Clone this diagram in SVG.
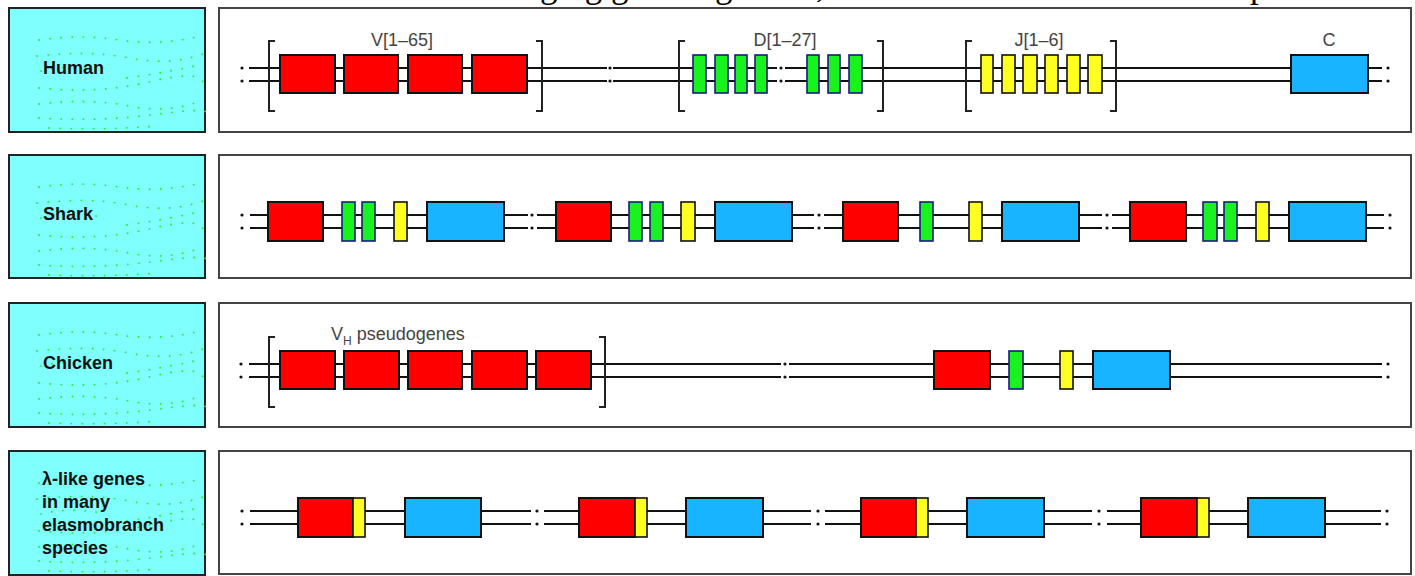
<svg xmlns="http://www.w3.org/2000/svg" width="1415" height="576" viewBox="0 0 1415 576">
<style>
.bg{fill:#fff}
.lab{fill:#80ffff;stroke:#222;stroke-width:2}
.panel{fill:#fff;stroke:#444;stroke-width:2}
.dots{fill:none;stroke:#22ee22;stroke-width:1.8;stroke-linecap:round;stroke-dasharray:0.1 11}
.ln{stroke:#111;stroke-width:2;fill:none}
.br{stroke:#222;stroke-width:2;fill:none}
.sep{fill:#111}
.V{fill:#ff0000;stroke:#111;stroke-width:2}
.D{fill:#18f21e;stroke:#1a1a80;stroke-width:1.6}
.J{fill:#ffff22;stroke:#111;stroke-width:1.6}
.C{fill:#19b4ff;stroke:#111;stroke-width:2}
.name{font-family:"Liberation Sans",Arial,sans-serif;font-weight:bold;font-size:18px;fill:#111}
.seg{font-family:"Liberation Sans",Arial,sans-serif;font-size:18px;fill:#444}
.cap{font-family:"Liberation Serif","Times New Roman",serif;font-size:35px;fill:#000}
</style>
<defs>
<g id="speckle">
<path class="dots" d="M30 32 Q70 26 110 32 T192 28"/>
<path class="dots" d="M28 48 Q80 42 120 50 T194 46"/>
<path class="dots" d="M32 63 Q60 56 92 62 M118 70 Q160 64 194 56"/>
<path class="dots" d="M30 80 Q90 86 140 74 T194 74"/>
<path class="dots" d="M30 96 Q80 90 120 98 T194 92"/>
<path class="dots" d="M30 110 Q90 114 150 106 T194 108"/>
<path class="dots" d="M40 120 Q100 122 150 118"/>
</g>
<g id="sepdots">
<circle cx="0" cy="0" r="1.6"/>
<circle cx="0" cy="13" r="1.6"/>
</g>
</defs>
<rect class="bg" x="0" y="0" width="1415" height="576"/>
<g id="caption">
<text class="cap" x="540" y="-3.5">ging gene segments,</text>
<text class="cap" x="1250" y="-3.5">p</text>
</g>

<g id="label-human">
<rect class="lab" x="9" y="8" width="196" height="124"/>
<use href="#speckle" transform="translate(9,8)"/>
<text class="name" x="43" y="74">Human</text>
</g>
<g id="label-shark">
<rect class="lab" x="9" y="155" width="196" height="123"/>
<use href="#speckle" transform="translate(9,155)"/>
<text class="name" x="43" y="220">Shark</text>
</g>
<g id="label-chicken">
<rect class="lab" x="9" y="303" width="196" height="124"/>
<use href="#speckle" transform="translate(9,303)"/>
<text class="name" x="43" y="369">Chicken</text>
</g>
<g id="label-lambda">
<rect class="lab" x="9" y="451" width="196" height="124"/>
<use href="#speckle" transform="translate(9,451)"/>
<text class="name" x="42" y="485">λ-like genes</text>
<text class="name" x="42" y="508">in many</text>
<text class="name" x="42" y="531">elasmobranch</text>
<text class="name" x="42" y="554">species</text>
</g>

<g id="panels">
<rect class="panel" x="219" y="8" width="1192" height="124"/>
<rect class="panel" x="219" y="155" width="1192" height="123"/>
<rect class="panel" x="219" y="303" width="1192" height="124"/>
<rect class="panel" x="219" y="451" width="1192" height="123"/>
</g>

<g id="connectors">
<path class="ln" d="M249 68H607M613 68H777M785 68H1382M249 81H607M613 81H777M785 81H1382"/>
<g class="sep">
<use href="#sepdots" transform="translate(242,68)"/>
<use href="#sepdots" transform="translate(610,68)"/>
<use href="#sepdots" transform="translate(781,68)"/>
<use href="#sepdots" transform="translate(1388,68)"/>
</g>
<path class="ln" d="M250 215H528M537 215H814M824 215H1102M1112 215H1384M250 228H528M537 228H814M824 228H1102M1112 228H1384"/>
<g class="sep">
<use href="#sepdots" transform="translate(242,215)"/>
<use href="#sepdots" transform="translate(532,215)"/>
<use href="#sepdots" transform="translate(819,215)"/>
<use href="#sepdots" transform="translate(1107,215)"/>
<use href="#sepdots" transform="translate(1390,215)"/>
</g>
<path class="ln" d="M249 364H781M789 364H1382M249 377H781M789 377H1382"/>
<g class="sep">
<use href="#sepdots" transform="translate(241,364)"/>
<use href="#sepdots" transform="translate(785,364)"/>
<use href="#sepdots" transform="translate(1388,364)"/>
</g>
<path class="ln" d="M250 511H531M544 511H811M825 511H1092M1107 511H1381M250 524H531M544 524H811M825 524H1092M1107 524H1381"/>
<g class="sep">
<use href="#sepdots" transform="translate(242,511)"/>
<use href="#sepdots" transform="translate(537,511)"/>
<use href="#sepdots" transform="translate(818,511)"/>
<use href="#sepdots" transform="translate(1099,511)"/>
<use href="#sepdots" transform="translate(1387,511)"/>
</g>
</g>

<g id="human-V">
<path class="br" d="M275 41H269V111H275M536 41H542V111H536"/>
<rect class="V" x="280" y="55" width="55" height="38"/>
<rect class="V" x="344" y="55" width="54" height="38"/>
<rect class="V" x="408" y="55" width="54" height="38"/>
<rect class="V" x="472" y="55" width="55" height="38"/>
<text class="seg" x="402" y="46" text-anchor="middle">V[1–65]</text>
</g>
<g id="human-D">
<path class="br" d="M685 41H679V111H685M877 41H883V111H877"/>
<rect class="D" x="693" y="55" width="13" height="38"/>
<rect class="D" x="715" y="55" width="13" height="38"/>
<rect class="D" x="735" y="55" width="12" height="38"/>
<rect class="D" x="755" y="55" width="12" height="38"/>
<rect class="D" x="807" y="55" width="12" height="38"/>
<rect class="D" x="828" y="55" width="12" height="38"/>
<rect class="D" x="849" y="55" width="13" height="38"/>
<text class="seg" x="785" y="46" text-anchor="middle">D[1–27]</text>
</g>
<g id="human-J">
<path class="br" d="M972 41H966V111H972M1110 41H1116V111H1110"/>
<rect class="J" x="981" y="55" width="12" height="38"/>
<rect class="J" x="1002" y="55" width="13" height="38"/>
<rect class="J" x="1023" y="55" width="14" height="38"/>
<rect class="J" x="1045" y="55" width="13" height="38"/>
<rect class="J" x="1067" y="55" width="13" height="38"/>
<rect class="J" x="1088" y="55" width="14" height="38"/>
<text class="seg" x="1039" y="46" text-anchor="middle">J[1–6]</text>
</g>
<g id="human-C">
<rect class="C" x="1291" y="55" width="77" height="38"/>
<text class="seg" x="1329" y="46" text-anchor="middle">C</text>
</g>

<g id="shark-cluster-1">
<rect class="V" x="268" y="202" width="55" height="39"/>
<rect class="D" x="342" y="202" width="13" height="39"/>
<rect class="D" x="362" y="202" width="13" height="39"/>
<rect class="J" x="394" y="202" width="13" height="39"/>
<rect class="C" x="427" y="202" width="77" height="39"/>
</g>
<g id="shark-cluster-2">
<rect class="V" x="556" y="202" width="55" height="39"/>
<rect class="D" x="629" y="202" width="13" height="39"/>
<rect class="D" x="650" y="202" width="13" height="39"/>
<rect class="J" x="681" y="202" width="14" height="39"/>
<rect class="C" x="715" y="202" width="77" height="39"/>
</g>
<g id="shark-cluster-3">
<rect class="V" x="843" y="202" width="55" height="39"/>
<rect class="D" x="920" y="202" width="13" height="39"/>
<rect class="J" x="969" y="202" width="13" height="39"/>
<rect class="C" x="1002" y="202" width="77" height="39"/>
</g>
<g id="shark-cluster-4">
<rect class="V" x="1130" y="202" width="56" height="39"/>
<rect class="D" x="1203" y="202" width="14" height="39"/>
<rect class="D" x="1224" y="202" width="13" height="39"/>
<rect class="J" x="1256" y="202" width="13" height="39"/>
<rect class="C" x="1289" y="202" width="77" height="39"/>
</g>

<g id="chicken-pseudo">
<path class="br" d="M275 337H269V407H275M599 337H605V407H599"/>
<rect class="V" x="280" y="351" width="55" height="38"/>
<rect class="V" x="344" y="351" width="55" height="38"/>
<rect class="V" x="408" y="351" width="54" height="38"/>
<rect class="V" x="472" y="351" width="55" height="38"/>
<rect class="V" x="536" y="351" width="55" height="38"/>
<text class="seg" x="331" y="340">V<tspan font-size="12" dy="5">H</tspan><tspan dy="-5"> pseudogenes</tspan></text>
</g>
<g id="chicken-functional">
<rect class="V" x="934" y="351" width="56" height="38"/>
<rect class="D" x="1009" y="351" width="14" height="38"/>
<rect class="J" x="1060" y="351" width="13" height="38"/>
<rect class="C" x="1093" y="351" width="77" height="38"/>
</g>

<g id="lambda-cluster-1">
<rect class="V" x="298" y="498" width="55" height="39"/>
<rect class="J" x="353" y="498" width="12" height="39"/>
<rect class="C" x="405" y="498" width="76" height="39"/>
</g>
<g id="lambda-cluster-2">
<rect class="V" x="579" y="498" width="56" height="39"/>
<rect class="J" x="635" y="498" width="12" height="39"/>
<rect class="C" x="686" y="498" width="77" height="39"/>
</g>
<g id="lambda-cluster-3">
<rect class="V" x="861" y="498" width="55" height="39"/>
<rect class="J" x="916" y="498" width="12" height="39"/>
<rect class="C" x="967" y="498" width="77" height="39"/>
</g>
<g id="lambda-cluster-4">
<rect class="V" x="1141" y="498" width="56" height="39"/>
<rect class="J" x="1197" y="498" width="12" height="39"/>
<rect class="C" x="1248" y="498" width="77" height="39"/>
</g>
</svg>
